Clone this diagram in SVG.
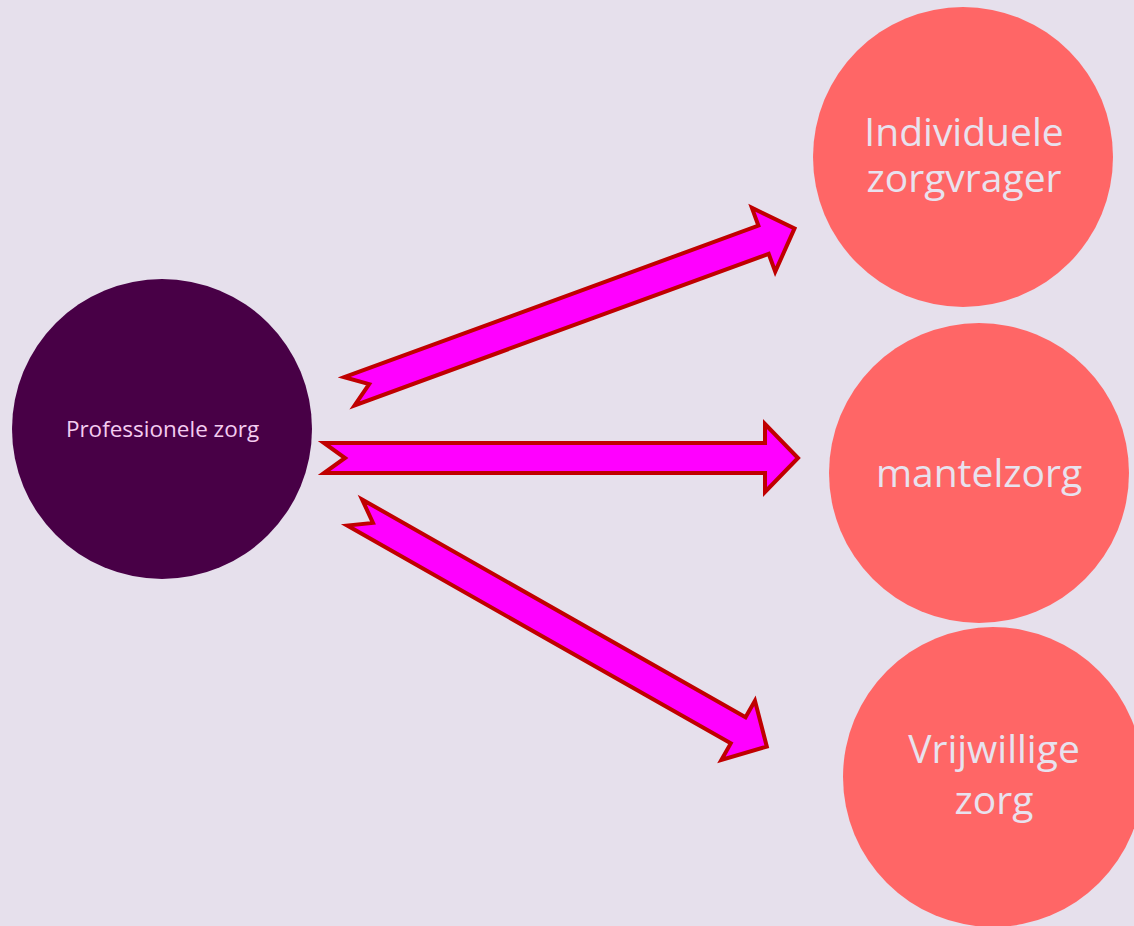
<svg xmlns="http://www.w3.org/2000/svg" width="1134" height="926" viewBox="0 0 1134 926">
<defs>
<style>
.bg{fill:#E6E0EC}
.arrow{fill:#FF00FF;stroke:#C00000;stroke-width:4;stroke-linejoin:miter;stroke-miterlimit:10}
.src{fill:#480046}
.dst{fill:#FF6666}
.t{font-family:"Open Sans","Liberation Sans",sans-serif;text-anchor:middle}
.ts{fill:#F4CCF0;font-size:22.5px}
.td{fill:#E8E2EE;font-size:39px}
</style>
<polygon id="arr" class="arrow" points="0,-15 441,-15 441,-34 474,0 441,34 441,15 0,15 21,0"/>
</defs>
<rect class="bg" x="0" y="0" width="1134" height="926"/>
<g id="connectors">
<use href="#arr" transform="translate(349.4,391.3) rotate(-20.1)"/>
<use href="#arr" transform="translate(324,458)"/>
<use href="#arr" transform="translate(354.7,512.5) rotate(29.6)"/>
</g>
<g id="professionele">
<circle class="src" cx="162" cy="429" r="150"/>
<text class="t ts" x="162.5" y="437">Professionele zorg</text>
</g>
<g id="individuele">
<circle class="dst" cx="963" cy="157" r="150"/>
<text class="t td" x="964" y="146">Individuele</text>
<text class="t td" x="964" y="192">zorgvrager</text>
</g>
<g id="mantelzorg">
<circle class="dst" cx="979" cy="473" r="150"/>
<text class="t td" x="979" y="487">mantelzorg</text>
</g>
<g id="vrijwillige">
<circle class="dst" cx="993" cy="777" r="150"/>
<text class="t td" x="994" y="763">Vrijwillige</text>
<text class="t td" x="994" y="814">zorg</text>
</g>
</svg>
